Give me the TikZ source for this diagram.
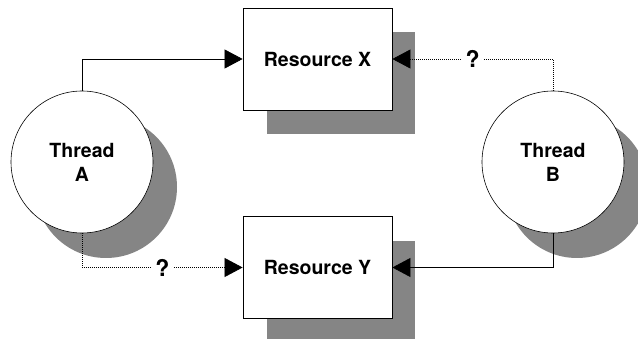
\documentclass[tikz,border=0pt]{standalone}
\usepackage{fontspec}
\setmainfont{TeX Gyre Heros}
\usetikzlibrary{arrows.meta}
\tikzset{
  shade/.style={fill=black!48, draw=none},
  resbox/.style={draw=black, fill=white, line width=0.8pt, minimum width=149pt, minimum height=102pt, inner sep=0pt,
    font=\fontsize{19.5}{24}\selectfont\bfseries},
  thread/.style={circle, draw=black, fill=white, line width=0.6pt, minimum size=142pt, inner sep=0pt, align=center,
    font=\fontsize{19.5}{24}\selectfont\bfseries},
  conn/.style={line width=0.7pt, -{Triangle[length=18pt, width=19pt]}},
  maybe/.style={conn, dash pattern=on 0.8pt off 1.2pt},
  qmark/.style={fill=white, inner sep=4pt, font=\fontsize{23}{24}\selectfont\bfseries}
}
\begin{document}
\begin{tikzpicture}[x=1pt, y=-1pt]
\useasboundingbox (0,0) rectangle (638,339);
\fill[white] (0,0) rectangle (638,339);
\begin{scope}
\clip (0,0) rectangle (638,339);
% shadows
\fill[shade] (267,32) rectangle (415,134);
\fill[shade] (267,241) rectangle (415,342);
\fill[shade] (106,187) circle (71);
\fill[shade] (577,187) circle (71);
\end{scope}
% nodes
\node[resbox] (X) at (317.5,59) {Resource X};
\node[resbox] (Y) at (317.5,267.5) {Resource Y};
\node[thread] (A) at (82,162) {Thread\\A};
\node[thread] (B) at (553,162) {Thread\\B};
% connectors
\draw[conn] (A.north) |- (X.west);
\draw[maybe] (B.north) |- node[qmark, pos=0.75] (q1) {?} (X.east);
\draw[maybe] (A.south) |- node[qmark, pos=0.75] (q2) {?} (Y.west);
\draw[conn] (B.south) |- (Y.east);
\end{tikzpicture}
\end{document}
